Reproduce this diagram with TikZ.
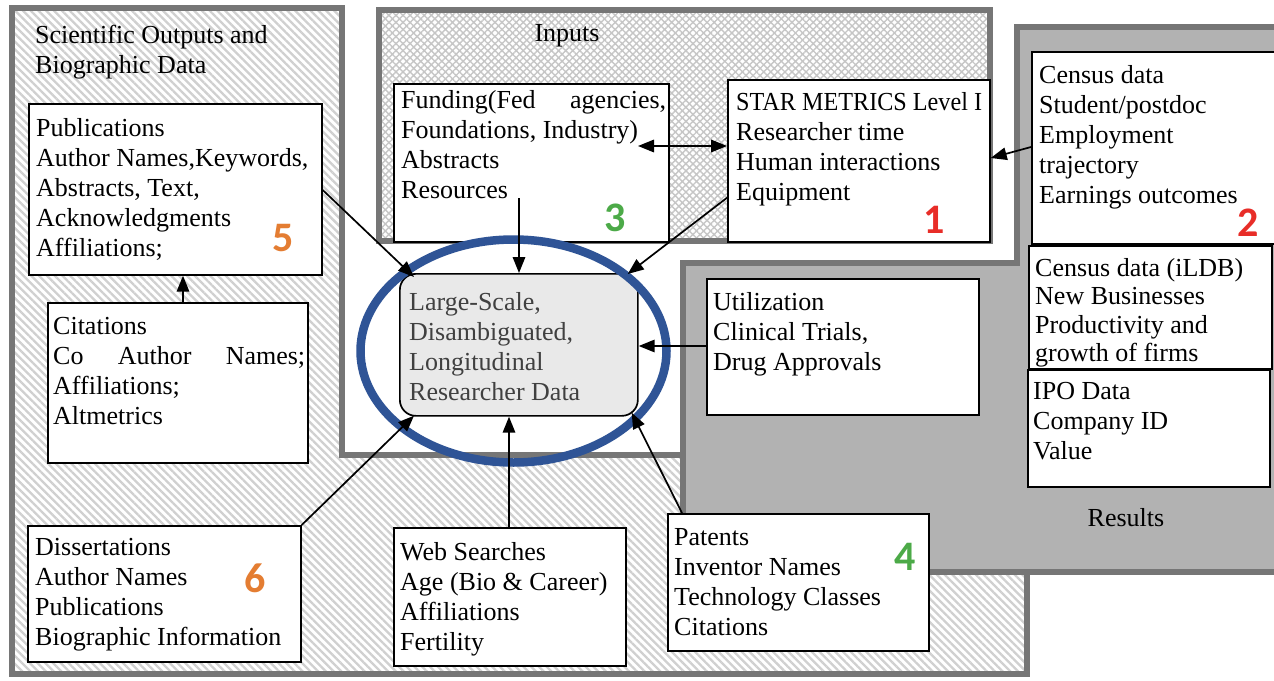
\documentclass[tikz,border=0pt]{standalone}
\usepackage{fontspec}
\setmainfont{Liberation Serif}
\newfontfamily\numfont{Carlito}
\usetikzlibrary{patterns.meta,arrows.meta,calc}

\definecolor{regionedge}{RGB}{118,118,118}
\definecolor{hatchgray}{RGB}{208,208,208}
\definecolor{meshgray}{RGB}{198,198,198}
\definecolor{resultsfill}{RGB}{178,178,178}
\definecolor{ringblue}{RGB}{47,84,150}
\definecolor{numred}{RGB}{232,45,40}
\definecolor{numgreen}{RGB}{76,170,72}
\definecolor{numorange}{RGB}{228,125,50}
\definecolor{corefill}{RGB}{233,233,233}
\definecolor{coretext}{RGB}{64,64,64}

\begin{document}
\begin{tikzpicture}[x=1pt,y=-1pt,
  region/.style={draw=regionedge,line width=5.5pt},
  databox/.style={draw=black,line width=1.7pt,fill=white,rectangle,inner sep=0pt,anchor=north west},
  boxtext/.style={anchor=north west,inner sep=0pt,align=left,font=\fontsize{26}{30}\selectfont},
  areatitle/.style={inner sep=0pt,align=left,font=\fontsize{26}{30}\selectfont},
  num/.style={inner sep=0pt,font=\numfont\bfseries\fontsize{42}{42}\selectfont},
  arr/.style={line width=1.7pt,-{Triangle[length=16pt,width=12.5pt]}},
  biarr/.style={line width=1.7pt,{Triangle[length=16pt,width=12.5pt]}-{Triangle[length=16pt,width=12.5pt]}},
]
\useasboundingbox (0,0) rectangle (1274,680);
\clip (0,0) rectangle (1274,680);
\fill[white] (0,0) rectangle (1274,680);

% scientific outputs area (striped)
\path[pattern={Lines[angle=-45,distance=5.5pt,line width=2.3pt]},pattern color=hatchgray]
  (12,8) -- (342,8) -- (342,455) -- (683,455) -- (683,572) -- (1027,572) -- (1027,674) -- (12,674) -- cycle;
\draw[region] (12,8) -- (342,8) -- (342,455) -- (683,455) -- (683,572) -- (1027,572) -- (1027,674) -- (12,674) -- cycle;

% results area
\draw[region,fill=resultsfill]
  (683,263) -- (1017,263) -- (1017,27) -- (1290,27) -- (1290,572) -- (683,572) -- cycle;

% inputs area (mesh)
\path[pattern={Hatch[angle=45,distance=5pt,line width=1.4pt]},pattern color=meshgray]
  (379,10) rectangle (990,241);
\draw[region] (379,10) rectangle (990,241);

% area titles
\node[areatitle,anchor=north west] (t-sci) at (35,25) {Scientific Outputs and\\Biographic Data};
\node[areatitle] (t-in) at (567,36) {Inputs};
\node[areatitle] (t-res) at (1126,518) {Results};

% data boxes
\node[databox,minimum width=293pt,minimum height=171pt] (pub) at (28,103) {};
\node[boxtext] (pub-t) at (36,118) {Publications\\Author Names,Keywords,\\Abstracts, Text,\\Acknowledgments\\Affiliations;};

\node[databox,minimum width=260pt,minimum height=160pt] (cit) at (47,302) {};
\node[boxtext] (cit-t) at (53,317) {Citations\\\makebox[252pt][s]{Co Author Names;}\\Affiliations;\\Altmetrics};

\node[databox,minimum width=275pt,minimum height=158pt] (fund) at (393,83) {};
\node[boxtext] (fund-t) at (401,90) {\makebox[265pt][s]{Funding(Fed agencies,}\\Foundations, Industry)\\Abstracts\\Resources};

\node[databox,minimum width=262pt,minimum height=162pt] (star) at (727,79) {};
\node[boxtext] (star-t) at (736,92) {\scalebox{0.93}[1]{STAR METRICS Level I}\\Researcher time\\Human interactions\\Equipment};

\node[databox,minimum width=244pt,minimum height=192pt] (cen) at (1031,51) {};
\node[boxtext] (cen-t) at (1039,65) {Census data\\Student/postdoc\\Employment\\trajectory\\Earnings outcomes};

\node[databox,minimum width=243pt,minimum height=123pt] (ildb) at (1028,245) {};
\node[boxtext,font=\fontsize{26}{28.5}\selectfont] (ildb-t) at (1035,258) {Census data (iLDB)\\New Businesses\\Productivity and\\growth of firms};

\node[databox,minimum width=242pt,minimum height=117pt] (ipo) at (1027,369) {};
\node[boxtext] (ipo-t) at (1033,382) {IPO Data\\Company ID\\Value};

\node[databox,minimum width=272pt,minimum height=136pt] (util) at (706,278) {};
\node[boxtext] (util-t) at (713,292) {Utilization\\Clinical Trials,\\Drug Approvals};

\node[databox,minimum width=261pt,minimum height=137pt] (pat) at (667,513) {};
\node[boxtext] (pat-t) at (674,528) {Patents\\Inventor Names\\Technology Classes\\Citations};

\node[databox,minimum width=232pt,minimum height=138pt] (web) at (393,527) {};
\node[boxtext] (web-t) at (400,542) {Web Searches\\Age (Bio \& Career)\\Affiliations\\Fertility};

\node[databox,minimum width=273pt,minimum height=136pt] (diss) at (27,525) {};
\node[boxtext] (diss-t) at (35,538) {Dissertations\\Author Names\\Publications\\Biographic Information};

% central record
\node[draw=black,line width=1.7pt,fill=corefill,rounded corners=16pt,inner sep=0pt,
      minimum width=238pt,minimum height=142pt,anchor=north west] (ctr) at (399,273) {};
\node[boxtext,text=coretext] (ctr-t) at (409,292) {Large-Scale,\\Disambiguated,\\Longitudinal\\Researcher Data};

% highlight ring
\draw[ringblue,line width=8.5pt] (513.5,351) ellipse [x radius=153, y radius=111.5];

% source numbers
\node[num,text=numred] (n1) at (934,220) {1};
\node[num,text=numred] (n2) at (1248,223) {2};
\node[num,text=numgreen] (n3) at (615,218) {3};
\node[num,text=numgreen] (n4) at (905,557) {4};
\node[num,text=numorange] (n5) at (283,238) {5};
\node[num,text=numorange] (n6) at (255,578) {6};

% connectors
\draw[arr] ($(pub.north east)+(0,87)$) -- ($(ctr.north west)+(15,4)$);
\draw[arr] ($(fund.north west)+(126,115)$) -- ($(ctr.north west)+(120,0)$);
\draw[arr] ($(star.north west)+(1,118)$) -- ($(ctr.north east)+(-11,1)$);
\draw[biarr] ($(fund.north west)+(245,63)$) -- ($(star.north west)+(0,67)$);
\draw[arr] ($(cen.north west)+(0,96)$) -- ($(star.north east)+(0,79)$);
\draw[arr] ($(util.north west)+(0,68)$) -- ($(ctr.north east)+(0,73)$);
\draw[arr] ($(cit.north west)+(136,0)$) -- ($(pub.south west)+(155,0)$);
\draw[arr] (diss.north east) -- ($(ctr.south west)+(15,-1)$);
\draw[arr] ($(web.north west)+(116,0)$) -- ($(ctr.south west)+(110,0)$);
\draw[arr] ($(pat.north west)+(15,0)$) -- ($(ctr.south east)+(-7,-4)$);
\end{tikzpicture}
\end{document}
